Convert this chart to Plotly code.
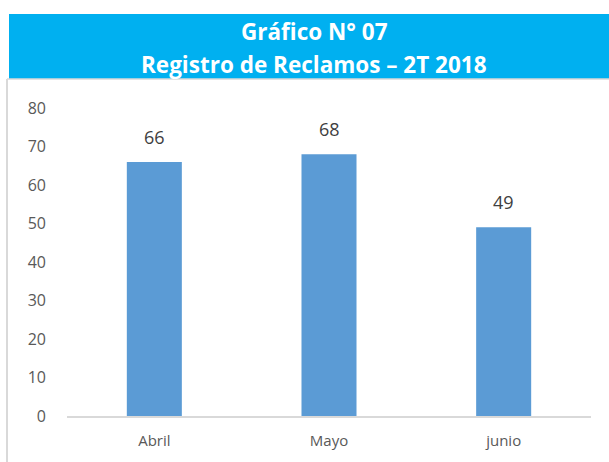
import plotly.graph_objects as go

categories = ["Abril", "Mayo", "junio"]
values = [66, 68, 49]
y_ticks = [0, 10, 20, 30, 40, 50, 60, 70, 80]
title_line1 = "Gráfico N° 07"
title_line2 = "Registro de Reclamos – 2T 2018"

W, H = 609, 462
ml, mr, mt, mb = 67, 18, 108, 46
pw, ph = W - ml - mr, H - mt - mb

def px(x):
    return (x - ml) / pw

def py(y):
    return (H - mb - y) / ph

fig = go.Figure()
fig.add_trace(go.Bar(
    x=categories, y=values, width=0.315,
    marker=dict(color="#5B9BD5", line=dict(width=0)),
    cliponaxis=False, hoverinfo="skip",
))

label_annotations = [
    dict(x=c, y=v, xref="x", yref="y", text=str(v), showarrow=False,
         yanchor="bottom", yshift=11,
         font=dict(family="Open Sans", size=18, color="#404040"))
    for c, v in zip(categories, values)
]

fig.update_layout(
    width=W, height=H,
    margin=dict(l=ml, r=mr, t=mt, b=mb),
    paper_bgcolor="white", plot_bgcolor="white",
    showlegend=False,
    xaxis=dict(showgrid=False, showline=True, linecolor="#d9d9d9", linewidth=1.5,
               tickfont=dict(family="Open Sans", size=15, color="#595959"),
               ticks="", ticklabelstandoff=10),
    yaxis=dict(range=[0, 80], tickvals=y_ticks, showgrid=False, zeroline=False,
               showline=False,
               tickfont=dict(family="Open Sans", size=16, color="#595959"),
               ticks="", ticklabelstandoff=20),
    shapes=[
        dict(type="rect", xref="paper", yref="paper",
             x0=px(9), x1=px(609), y0=py(79), y1=py(14),
             fillcolor="#00B0F0", line=dict(width=0), layer="below"),
        dict(type="line", xref="paper", yref="paper",
             x0=px(7), x1=px(7), y0=py(79), y1=py(462),
             line=dict(color="#d9d9d9", width=2)),
        dict(type="line", xref="paper", yref="paper",
             x0=px(7), x1=px(609), y0=py(79), y1=py(79),
             line=dict(color="#d9d9d9", width=1.5)),
    ],
    annotations=label_annotations + [
        dict(text="<b>" + title_line1 + "</b>", xref="paper", yref="paper",
             x=px(314), y=py(31), xanchor="center", yanchor="middle",
             showarrow=False, font=dict(family="Open Sans", size=22.5, color="white")),
        dict(text="<b>" + title_line2 + "</b>", xref="paper", yref="paper",
             x=px(314), y=py(64), xanchor="center", yanchor="middle",
             showarrow=False, font=dict(family="Open Sans", size=22.5, color="white")),
    ],
)

fig.write_html("out.html", config={"displayModeBar": False},
               post_script="document.body.style.margin='0';")
